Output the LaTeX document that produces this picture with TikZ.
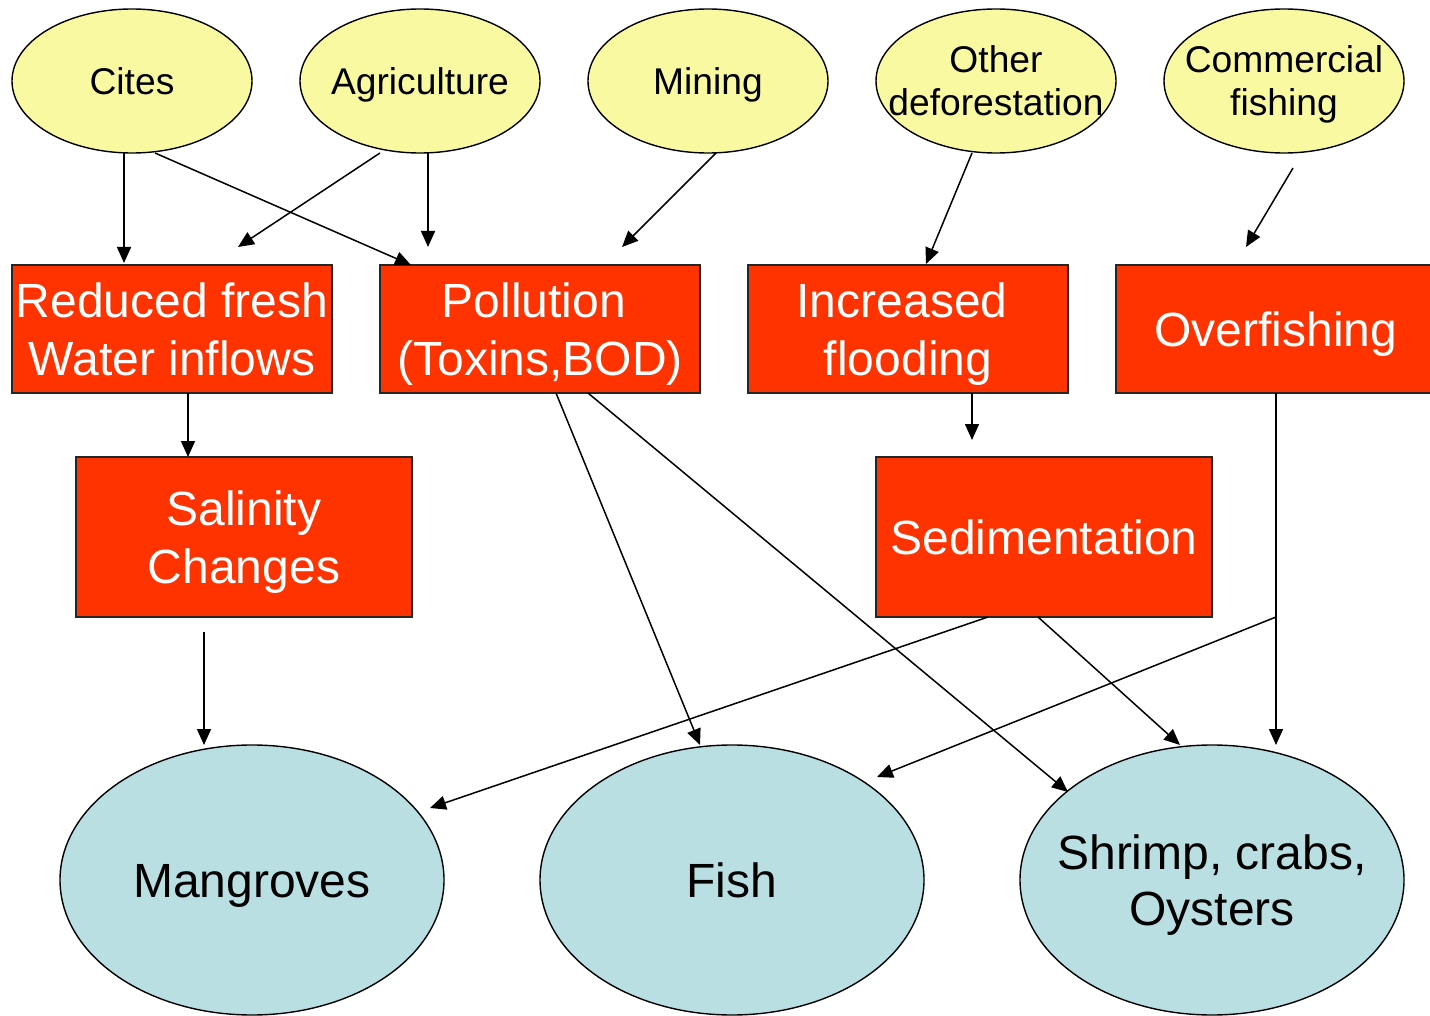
\documentclass[tikz,border=0pt]{standalone}
\usepackage{fontspec}
\setmainfont{Liberation Sans}
\usetikzlibrary{shapes.geometric,arrows.meta}
\definecolor{ylw}{HTML}{F9F9A2}
\definecolor{rd}{HTML}{FF3300}
\definecolor{bl}{HTML}{B9DFE2}
\newcommand\capline[1]{\raisebox{0pt}[0.72em][0pt]{#1}}
\tikzset{
  src/.style={ellipse,draw=black,line width=0.7pt,fill=ylw,inner sep=-40pt,minimum width=120pt,minimum height=72pt,align=center,font=\fontsize{18.6}{21.5}\selectfont},
  eff/.style={rectangle,draw=black!85,line width=0.7pt,fill=rd,inner sep=0pt,text=white,align=center,font=\fontsize{24}{29}\selectfont},
  tgt/.style={ellipse,draw=black,line width=0.7pt,fill=bl,inner sep=-40pt,minimum width=192pt,minimum height=135pt,align=center,font=\fontsize{24}{28}\selectfont},
  arr/.style={line width=0.75pt,-{Triangle[length=8pt,width=7pt]}},
}
\begin{document}
\begin{tikzpicture}[x=0.5pt,y=-0.5pt]
\useasboundingbox (0,0) rectangle (1430,1016);
% sources
\node[src] (cites) at (132,81) {\capline{Cites}};
\node[src] (agri) at (420,81) {\capline{Agriculture}};
\node[src] (mining) at (708,81) {\capline{Mining}};
\node[src] (defor) at (996,81) {\capline{Other}\\\capline{deforestation}};
\node[src] (comm) at (1284,81) {\capline{Commercial}\\\capline{fishing}};
% effects
\node[eff,minimum width=160pt,minimum height=64pt] (fresh) at (172,329) {\capline{Reduced fresh}\\\capline{Water inflows}};
\node[eff,minimum width=160pt,minimum height=64pt] (poll) at (540,329) {\capline{Pollution\hspace{6pt}}\\\capline{(Toxins,BOD)}};
\node[eff,minimum width=160pt,minimum height=64pt] (flood) at (908,329) {\capline{Increased\hspace{6pt}}\\\capline{flooding}};
\node[eff,minimum width=160pt,minimum height=64pt] (over) at (1276,329) {\capline{Overfishing}};
\node[eff,minimum width=168pt,minimum height=80pt] (sal) at (244,537) {\capline{Salinity}\\\capline{Changes}};
\node[eff,minimum width=168pt,minimum height=80pt] (sed) at (1044,537) {\capline{Sedimentation}};
% targets
\node[tgt] (mang) at (252,880) {\capline{Mangroves}};
\node[tgt] (fish) at (732,880) {\capline{Fish}};
\node[tgt] (shrimp) at (1212,880) {\capline{Shrimp, crabs,}\\\capline{Oysters}};
% connector ends
\coordinate (a1) at (124,153);
\coordinate (a1e) at (124,263);
\coordinate (a2) at (155,153);
\coordinate (a2e) at (411,265);
\coordinate (a3) at (380,153);
\coordinate (a3e) at (238,247);
\coordinate (a4) at (428,153);
\coordinate (a4e) at (428,247);
\coordinate (a5) at (716,153);
\coordinate (a5e) at (622,247);
\coordinate (a6) at (972,153);
\coordinate (a6e) at (926,264);
\coordinate (a7) at (1293,168);
\coordinate (a7e) at (1246,247);
\coordinate (a8) at (188,393);
\coordinate (a8e) at (188,457);
\coordinate (a9) at (972,393);
\coordinate (a9e) at (972,440);
\coordinate (a10) at (204,632);
\coordinate (a10e) at (204,745);
\coordinate (a11) at (556,393);
\coordinate (a11e) at (700,745);
\coordinate (a12) at (588,393);
\coordinate (a12e) at (1068,792);
\coordinate (a13) at (988,617);
\coordinate (a13e) at (430,808);
\coordinate (a14) at (1038,617);
\coordinate (a14e) at (1180,745);
\coordinate (a15) at (1276,393);
\coordinate (a15e) at (1276,745);
\coordinate (br) at (1276,617);
\coordinate (a16e) at (877,777);
\draw[arr] (a1) -- (a1e);
\draw[arr] (a2) -- (a2e);
\draw[arr] (a3) -- (a3e);
\draw[arr] (a4) -- (a4e);
\draw[arr] (a5) -- (a5e);
\draw[arr] (a6) -- (a6e);
\draw[arr] (a7) -- (a7e);
\draw[arr] (a8) -- (a8e);
\draw[arr] (a9) -- (a9e);
\draw[arr] (a10) -- (a10e);
\draw[arr] (a11) -- (a11e);
\draw[arr] (a12) -- (a12e);
\draw[arr] (a13) -- (a13e);
\draw[arr] (a14) -- (a14e);
\draw[arr] (a15) -- (a15e);
\draw[arr] (br) -- (a16e);
\end{tikzpicture}
\end{document}
